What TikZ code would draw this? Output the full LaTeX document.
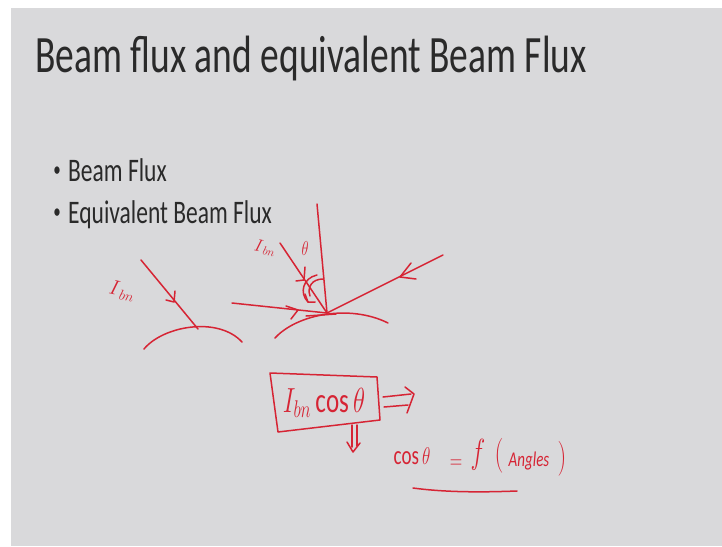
\documentclass[tikz,border=0pt]{standalone}
\usepackage{fontspec}
\setmainfont{Carlito}
\usepackage{graphicx}
\definecolor{slide}{HTML}{D9D9DB}
\definecolor{ink}{RGB}{214,36,52}
\definecolor{titletext}{HTML}{2A2A2A}
\newcommand{\vst}[1]{\scalebox{1}[1.4]{#1}}
\tikzset{
  pen/.style={ink, line width=1.5pt, line cap=round, line join=round},
  hand/.style={text=ink, inner sep=0pt},
  slidetext/.style={text=titletext, inner sep=0pt, anchor=base west},
  dot/.style={text=titletext, inner sep=0pt, font=\fontsize{15}{16}\selectfont}
}
\begin{document}
\begin{tikzpicture}[x=1pt,y=-1pt]
\useasboundingbox (0,0) rectangle (722,546);
\fill[slide] (11,8) rectangle (722,546);

% title and bullets
\node[slidetext, font=\fontsize{37.5}{40}\selectfont] (title) at (35,72) {\vst{Beam flux and equivalent Beam Flux}};
\node[dot] (d1) at (57,172) {\vst{•}};
\node[slidetext, font=\fontsize{23.5}{26}\selectfont] (b1) at (68,181) {\vst{Beam Flux}};
\node[dot] (d2) at (57,214) {\vst{•}};
\node[slidetext, font=\fontsize{23.5}{26}\selectfont] (b2) at (68,223) {\vst{Equivalent Beam Flux}};

% left sketch
\coordinate (L1) at (141,260);
\coordinate (L2) at (198,329);
\draw[pen] (L1) -- (L2);
\draw[pen] (166,300) -- (174,302) -- (175,291);
\coordinate (SA) at (144,349);
\coordinate (SB) at (242,342);
\draw[pen] (SA) .. controls (163,326) and (218,316) .. (SB);
\node[hand, rotate=-12, font=\fontsize{20}{22}\selectfont] (lab1) at (122,291) {$I_{\,bn}$};

% middle sketch
\coordinate (P) at (327,313);
\coordinate (N) at (317,204);
\coordinate (I1) at (280,243);
\coordinate (H1) at (232,303);
\coordinate (R1) at (443,255);
\draw[pen] (N) -- (P);
\draw[pen] (I1) -- (P);
\draw[pen] (H1) -- (P);
\draw[pen] (R1) -- (P);
\draw[pen] (296,281) -- (304,280) -- (305,267);
\draw[pen] (286,306) -- (298,310) -- (291,319);
\draw[pen] (411,263) -- (400,277) -- (416,279);
\coordinate (SC) at (275,338);
\coordinate (SD) at (388,323);
\draw[pen] (SC) .. controls (297,314) and (350,304) .. (SD);
\draw[pen] (306,316) -- (336,314);
\draw[pen] (323,279) .. controls (312,279) and (307,287) .. (310,296);
\draw[pen] (317,275) .. controls (303,278) and (299,293) .. (308,302);
\draw[pen] (305,294) -- (308,302) -- (315,302);
\node[hand, rotate=-12, font=\fontsize{17}{19}\selectfont] (lab2) at (265,248) {$I_{\,bn}$};
\node[hand, font=\fontsize{15}{17}\selectfont] (th) at (305,248) {\vst{$\theta$}};

% box
\node[hand, font=\fontsize{25}{28}\selectfont] (box) at (324,403) {\vst{$I_{bn}\cos\theta$}};
\draw[pen] (270,373) -- (377,377) -- (380,420) -- (278,432) -- cycle;
\draw[pen] (383,397) -- (411,394);
\draw[pen] (384,407) -- (408,405);
\draw[pen] (405,387) -- (414,394) -- (407,413);
\draw[pen] (352,425) -- (352,447);
\draw[pen] (357,425) -- (357,446);
\draw[pen] (347,442) -- (353,452) -- (360,443);

% relation
\node[hand, font=\fontsize{19}{21}\selectfont] (cs) at (412,456) {\vst{$\cos\theta$}};
\node[hand, font=\fontsize{19}{21}\selectfont] (eq) at (456,464) {\vst{$=$}};
\node[hand, font=\fontsize{34}{36}\selectfont] (f) at (478,455) {\vst{$f$}};
\node[hand, font=\fontsize{36}{38}\selectfont] (lp) at (499,456) {\vst{$($}};
\node[hand, font=\fontsize{15}{17}\selectfont] (ang) at (529,461) {\vst{\textit{Angles}}};
\node[hand, font=\fontsize{30}{32}\selectfont] (rp) at (562,459) {\vst{$)$}};
\coordinate (U1) at (413,488);
\coordinate (U2) at (517,491);
\draw[pen] (U1) .. controls (450,493) and (490,492) .. (U2);
\end{tikzpicture}
\end{document}
